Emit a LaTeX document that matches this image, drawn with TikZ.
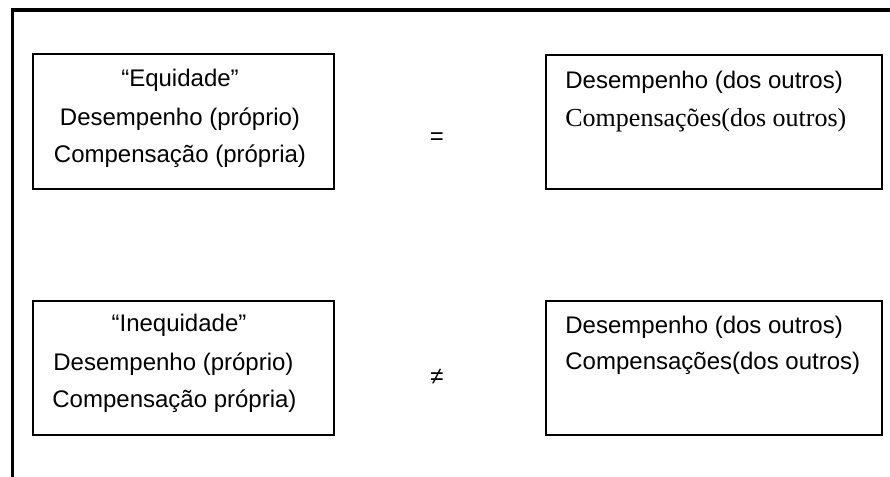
\documentclass[tikz,border=0pt]{standalone}
\usepackage{fontspec}
\setmainfont{Liberation Sans}
\newfontfamily\serifcomp{Liberation Serif}
\usetikzlibrary{positioning}
\tikzset{
    quadro/.style={draw, line width=0.8pt, anchor=north west, inner sep=0pt},
    texto/.style={anchor=base, inner sep=0pt, font=\fontsize{12}{14}\selectfont},
    textoesq/.style={texto, anchor=base west}
}
\begin{document}
\begin{tikzpicture}[x=0.5pt, y=-0.5pt]
    \useasboundingbox (0,0) rectangle (890,477);
    \draw[line width=1.7pt] (12.7,477) -- (12.7,10) -- (890,10);

    \node[quadro, minimum width=150.5pt, minimum height=67.5pt] (equi) at (32,53) {};
    \node[quadro, minimum width=168pt, minimum height=67pt] (outrosA) at (545,54) {};
    \node[quadro, minimum width=150.5pt, minimum height=67pt] (inequi) at (32,300) {};
    \node[quadro, minimum width=168pt, minimum height=67pt] (outrosB) at (545,300) {};

    \node[texto] (equiT) at (180,86) {“Equidade”};
    \node[texto] (equiD) at (180,125) {Desempenho (próprio)};
    \node[texto] (equiC) at (180,162) {Compensação (própria)};

    \node[textoesq] (outrosAD) at (565,88) {Desempenho (dos outros)};
    \node[textoesq, font=\serifcomp\fontsize{13}{15}\selectfont] (outrosAC) at (565,126) {Compensações(dos outros)};

    \node[texto] (igual) at (437,144) {=};

    \node[texto] (inequiT) at (179,331) {“Inequidade”};
    \node[textoesq] (inequiD) at (53,370) {Desempenho (próprio)};
    \node[textoesq] (inequiC) at (52,407) {Compensação própria)};

    \node[textoesq] (outrosBD) at (565,333) {Desempenho (dos outros)};
    \node[textoesq] (outrosBC) at (565,369) {Compensações(dos outros)};

    \node[texto] (diferente) at (437,384) {≠};
\end{tikzpicture}
\end{document}
